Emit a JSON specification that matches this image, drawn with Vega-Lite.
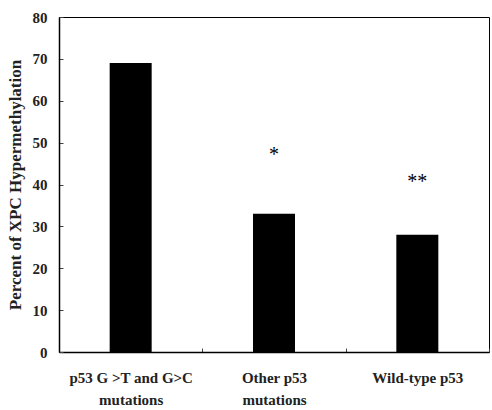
{
  "$schema": "https://vega.github.io/schema/vega-lite/v6.json",
  "width": 430,
  "height": 335,
  "autosize": {"type": "none"},
  "padding": {"left": 59, "top": 17, "right": 3, "bottom": 58},
  "background": "white",
  "data": {"values": [
    {"group": "p53 G >T and G>C|mutations", "pct": 69, "sig": "", "sigY": 0},
    {"group": "Other p53|mutations", "pct": 33, "sig": "*", "sigY": 47},
    {"group": "Wild-type p53", "pct": 28, "sig": "**", "sigY": 40.5}
  ]},
  "config": {
    "view": {"stroke": "black", "strokeWidth": 1},
    "font": "Liberation Serif"
  },
  "encoding": {
    "x": {
      "field": "group", "type": "nominal", "sort": null,
      "scale": {"paddingInner": 0, "paddingOuter": 0},
      "axis": {
        "title": null, "labelAngle": 0,
        "labelExpr": "split(datum.label, '|')",
        "labelFont": "Liberation Serif", "labelFontWeight": "bold", "labelFontSize": 15,
        "labelColor": "#222", "labelPadding": 22, "labelLineHeight": 22,
        "tickBand": "extent", "tickSize": -4, "tickColor": "#444",
        "domainColor": "black", "domainWidth": 1.5
      }
    }
  },
  "layer": [
    {
      "mark": {"type": "bar", "color": "black", "size": 42},
      "encoding": {
        "y": {
          "field": "pct", "type": "quantitative",
          "scale": {"domain": [0, 80]},
          "axis": {
            "title": "Percent of XPC Hypermethylation",
            "titleFont": "Liberation Serif", "titleFontWeight": "bold", "titleFontSize": 17,
            "titleColor": "#222", "titlePadding": 8,
            "values": [0, 10, 20, 30, 40, 50, 60, 70, 80],
            "labelFont": "Liberation Serif", "labelFontWeight": "bold", "labelFontSize": 15,
            "labelColor": "#222", "labelPadding": 16,
            "tickSize": -4, "tickColor": "#444", "grid": false,
            "domainColor": "black", "domainWidth": 1.5
          }
        }
      }
    },
    {
      "mark": {"type": "text", "fontSize": 20, "font": "Liberation Serif", "color": "black", "baseline": "middle"},
      "encoding": {
        "y": {"field": "sigY", "type": "quantitative"},
        "text": {"field": "sig"}
      }
    }
  ]
}
